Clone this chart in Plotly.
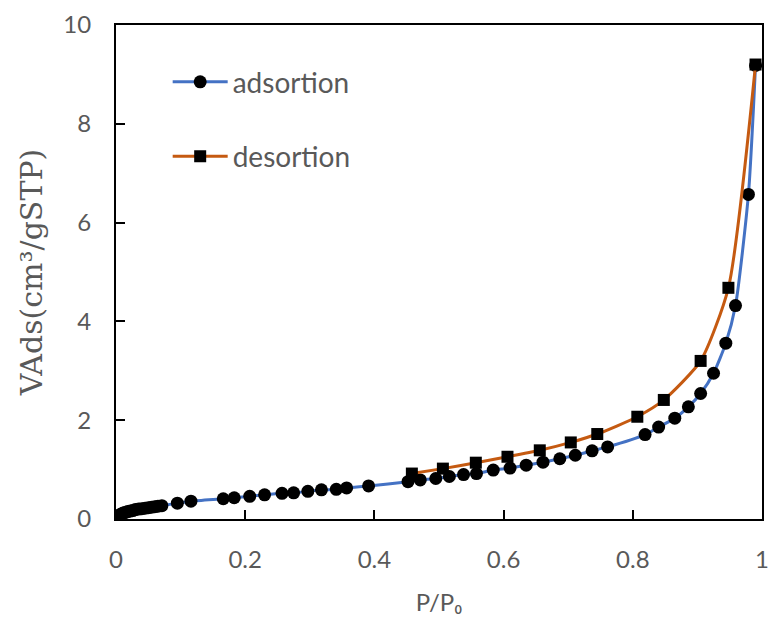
import plotly.graph_objects as go

ads_x = [0.005, 0.008, 0.011, 0.014, 0.018, 0.022, 0.026, 0.030, 0.035, 0.040, 0.045, 0.050, 0.055, 0.060, 0.065,
         0.071, 0.095, 0.116, 0.166, 0.183, 0.207, 0.230, 0.257, 0.275, 0.297, 0.318, 0.341, 0.357, 0.391,
         0.452, 0.471, 0.495, 0.516, 0.538, 0.558, 0.584, 0.610, 0.635, 0.661, 0.687, 0.711, 0.737, 0.761,
         0.819, 0.840, 0.865, 0.886, 0.905, 0.925, 0.944, 0.959, 0.979, 0.990]
ads_y = [0.08, 0.10, 0.12, 0.13, 0.15, 0.16, 0.17, 0.19, 0.20, 0.21, 0.22, 0.23, 0.24, 0.25, 0.26,
         0.27, 0.32, 0.36, 0.41, 0.43, 0.46, 0.49, 0.52, 0.53, 0.56, 0.59, 0.60, 0.63, 0.67,
         0.755, 0.79, 0.82, 0.86, 0.90, 0.92, 0.99, 1.03, 1.09, 1.15, 1.22, 1.29, 1.38, 1.46,
         1.71, 1.86, 2.04, 2.27, 2.54, 2.95, 3.56, 4.32, 6.57, 9.18]

des_x = [0.458, 0.506, 0.557, 0.606, 0.656, 0.704, 0.745, 0.807, 0.848, 0.905, 0.948, 0.990]
des_y = [0.92, 1.02, 1.14, 1.26, 1.39, 1.55, 1.72, 2.07, 2.41, 3.20, 4.68, 9.20]

x_ticks = [0, 0.2, 0.4, 0.6, 0.8, 1]
x_labels = ["0", "0.2", "0.4", "0.6", "0.8", "1"]
y_ticks = [0, 2, 4, 6, 8, 10]

gray = "#595959"
fig = go.Figure()
fig.add_trace(go.Scatter(
    x=ads_x, y=ads_y, name="adsortion", mode="lines+markers", legendgroup="a",
    line=dict(color="#4472C4", width=3, shape="spline", smoothing=0.6),
    marker=dict(symbol="circle", size=13, color="black")))
fig.add_trace(go.Scatter(
    x=des_x, y=des_y, name="desortion", mode="lines+markers", legendgroup="d",
    line=dict(color="#C55A11", width=3, shape="spline", smoothing=0.6),
    marker=dict(symbol="square", size=12, color="black")))

fig.update_layout(
    width=768, height=619,
    margin=dict(l=116, r=6, t=25, b=100),
    paper_bgcolor="white", plot_bgcolor="white",
    font=dict(family="Lato", color=gray, size=24),
    legend=dict(x=0.08, y=0.935, xanchor="left", yanchor="top",
                bgcolor="rgba(0,0,0,0)", font=dict(size=28, color=gray),
                tracegroupgap=35, traceorder="grouped", itemwidth=55),
    xaxis=dict(range=[0, 1], tickvals=x_ticks, ticktext=x_labels, automargin=False,
               ticklabeloverflow="allow",
               showgrid=False, zeroline=False, showline=True, mirror=True,
               linecolor="black", linewidth=2, ticks="inside", ticklen=9,
               tickwidth=2, tickcolor="black", ticklabelstandoff=18,
               tickfont=dict(size=24, color=gray),
               title=dict(text="P/P₀", font=dict(size=24, color=gray), standoff=22)),
    yaxis=dict(range=[0, 10], tickvals=y_ticks, automargin=False,
               ticklabeloverflow="allow",
               showgrid=False, zeroline=False, showline=True, mirror=True,
               linecolor="black", linewidth=2, ticks="inside", ticklen=9,
               tickwidth=2, tickcolor="black", ticklabelstandoff=18,
               tickfont=dict(size=24, color=gray),
               title=dict(text="VAds(cm³/gSTP)",
                          font=dict(family="DejaVu Serif", size=30, color=gray),
                          standoff=12)),
)
fig.write_html("out.html")
